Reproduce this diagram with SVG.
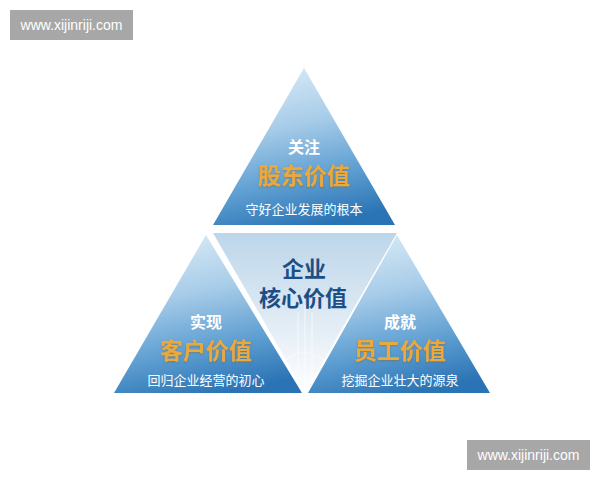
<svg xmlns="http://www.w3.org/2000/svg" width="600" height="480" viewBox="0 0 600 480">
  <defs>
    <linearGradient id="blueTri" x1="0.35" y1="0" x2="0.6" y2="1">
      <stop offset="0" stop-color="#d6e9f6"/>
      <stop offset="0.35" stop-color="#a9cde9"/>
      <stop offset="0.7" stop-color="#5f9fd2"/>
      <stop offset="1" stop-color="#2a73b4"/>
    </linearGradient>
    <linearGradient id="centerTri" x1="0" y1="0" x2="0" y2="1">
      <stop offset="0" stop-color="#bcd6ea"/>
      <stop offset="0.5" stop-color="#dde9f3"/>
      <stop offset="1" stop-color="#ffffff"/>
    </linearGradient>
    <filter id="softShadow" x="-10%" y="-10%" width="120%" height="130%">
      <feDropShadow dx="0" dy="1" stdDeviation="0.8" flood-color="#7a5a20" flood-opacity="0.45"/>
    </filter>
  </defs>
  <style>
    .tri { fill: url(#blueTri); }
    .cjk { font-family: "Noto Sans CJK SC", "Noto Sans", sans-serif; text-anchor: middle; }
    .head { fill: #ffffff; font-size: 16px; font-weight: bold; }
    .value { fill: #eba93c; font-size: 23px; font-weight: bold; filter: url(#softShadow); }
    .sub { fill: #ffffff; font-size: 13px; }
    .core { fill: #1d4f87; font-size: 22px; font-weight: bold; }
    .wm-box { fill: #a7a7a7; }
    .wm { fill: #ffffff; font-family: "Liberation Sans", Arial, sans-serif; font-size: 14px; text-anchor: middle; }
  </style>

  <rect width="600" height="480" fill="#ffffff"/>

  <g id="watermark-top">
    <rect class="wm-box" x="10" y="10" width="123" height="30"/>
    <text class="wm" x="71.5" y="30">www.xijinriji.com</text>
  </g>

  <g id="node-core">
    <polygon points="213,233 397,233 305,393" fill="url(#centerTri)"/>
    <g stroke="#ffffff" stroke-opacity="0.55" stroke-width="1.2" fill="none">
      <line x1="298" y1="312" x2="298" y2="380"/>
      <line x1="305" y1="305" x2="305" y2="392"/>
      <line x1="312" y1="312" x2="312" y2="380"/>
      <path d="M286,360 Q305,345 324,360"/>
    </g>
    <text class="cjk core" x="304" y="277">企业</text>
    <text class="cjk core" x="303" y="306">核心价值</text>
  </g>

  <g id="node-shareholder">
    <polygon class="tri" points="304,68 395,225 213,225"/>
    <text class="cjk head" x="304" y="153">关注</text>
    <text class="cjk value" x="304" y="184">股东价值</text>
    <text class="cjk sub" x="304" y="214">守好企业发展的根本</text>
  </g>

  <g id="node-customer">
    <polygon class="tri" points="206,235 302,393 114,393"/>
    <text class="cjk head" x="206" y="328">实现</text>
    <text class="cjk value" x="206" y="359">客户价值</text>
    <text class="cjk sub" x="206" y="385">回归企业经营的初心</text>
  </g>

  <g id="node-employee">
    <polygon class="tri" points="397,235 490,393 308,393"/>
    <text class="cjk head" x="400" y="328">成就</text>
    <text class="cjk value" x="400" y="359">员工价值</text>
    <text class="cjk sub" x="400" y="385">挖掘企业壮大的源泉</text>
  </g>

  <g id="connectors"></g>

  <g id="watermark-bottom">
    <rect class="wm-box" x="467" y="440" width="123" height="30"/>
    <text class="wm" x="528.5" y="460">www.xijinriji.com</text>
  </g>
</svg>
